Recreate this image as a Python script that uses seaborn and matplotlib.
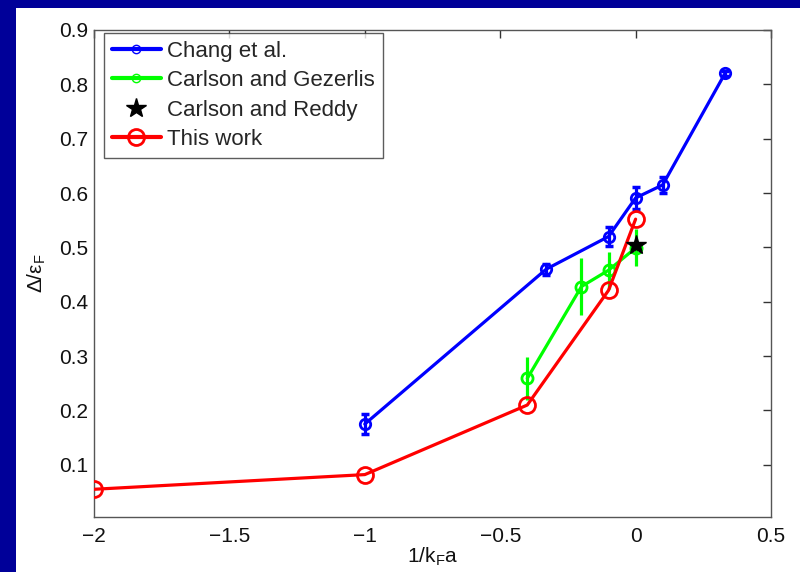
import numpy as np
import pandas as pd
import matplotlib
matplotlib.use("Agg")
import matplotlib.pyplot as plt
from matplotlib.patches import Rectangle
import seaborn as sns

# data
chang_x = [-1.0, -0.33, -0.1, 0.0, 0.1, 0.33]
chang_y = [0.175, 0.460, 0.520, 0.591, 0.615, 0.820]
chang_err = [0.018, 0.010, 0.018, 0.020, 0.015, 0.004]

gez_x = [-0.4, -0.2, -0.1, 0.0]
gez_y = [0.259, 0.428, 0.458, 0.499]
gez_err = [0.040, 0.053, 0.034, 0.034]

reddy_x = [0.0]
reddy_y = [0.504]

this_x = [-2.0, -1.0, -0.4, -0.1, 0.0]
this_y = [0.055, 0.082, 0.210, 0.421, 0.552]

xticks = [-2, -1.5, -1, -0.5, 0, 0.5]
xticklabels = ["\u22122", "\u22121.5", "\u22121", "\u22120.5", "0", "0.5"]
yticks = [0.1, 0.2, 0.3, 0.4, 0.5, 0.6, 0.7, 0.8, 0.9]

sns.set_theme(style="white")
plt.rcParams['font.family'] = ['Liberation Sans', 'DejaVu Sans']
plt.rcParams['mathtext.fontset'] = 'custom'
plt.rcParams['mathtext.rm'] = 'Liberation Sans'
plt.rcParams['mathtext.it'] = 'Liberation Sans'

fig = plt.figure(figsize=(8, 5.72), dpi=100)
fig.patch.set_facecolor('#000099')
fig.patches.append(Rectangle((16 / 800, 0), 1, 1 - 8 / 572, transform=fig.transFigure,
                             facecolor='white', edgecolor='none', zorder=-1))
ax = fig.add_axes([94 / 800, 1 - 517 / 572, (771 - 94) / 800, (517 - 30) / 572])
ax.set_facecolor('white')

blue = '#0000ff'
green = '#00ff00'
red = '#ff0000'

df_chang = pd.DataFrame({'x': chang_x, 'y': chang_y})
df_gez = pd.DataFrame({'x': gez_x, 'y': gez_y})
df_this = pd.DataFrame({'x': this_x, 'y': this_y})

ax.errorbar(chang_x, chang_y, yerr=chang_err, fmt='none', ecolor=blue,
            elinewidth=2.3, capsize=3, capthick=2.5, zorder=3)
sns.lineplot(data=df_chang, x='x', y='y', ax=ax, color=blue, lw=2.3,
             marker='o', markersize=7.5, markerfacecolor='none',
             markeredgecolor=blue, markeredgewidth=2, label='Chang et al.', zorder=3)

ax.errorbar(gez_x, gez_y, yerr=gez_err, fmt='none', ecolor=green,
            elinewidth=2.3, capsize=0, zorder=4)
sns.lineplot(data=df_gez, x='x', y='y', ax=ax, color=green, lw=2.3,
             marker='o', markersize=8, markerfacecolor='none',
             markeredgecolor=green, markeredgewidth=2, label='Carlson and Gezerlis', zorder=4)

ax.plot(reddy_x, reddy_y, linestyle='none', marker='*', markersize=15,
        color='black', label='Carlson and Reddy', zorder=6)

sns.lineplot(data=df_this, x='x', y='y', ax=ax, color=red, lw=2.3,
             marker='o', markersize=11.5, markerfacecolor='none',
             markeredgecolor=red, markeredgewidth=2, label='This work', zorder=5)

ax.set_xlim(-2, 0.5)
ax.set_ylim(0.004, 0.9)
ax.set_xticks(xticks)
ax.set_xticklabels(xticklabels)
ax.set_yticks(yticks)
ax.tick_params(axis='both', direction='in', length=6, width=1, color='#333333',
               labelsize=15, labelcolor='#111111', top=True, right=True)
ax.tick_params(axis='x', pad=7)
ax.tick_params(axis='y', pad=4)
for s in ax.spines.values():
    s.set_color('#555555')
    s.set_linewidth(1)

ax.set_xlabel(r'1/k$_\mathrm{F}$a', fontsize=15, color='#111111', labelpad=0)
ax.set_ylabel(r'$\Delta/\epsilon_\mathrm{F}$', fontsize=15, color='#111111', labelpad=8)

leg = ax.legend(loc='upper left', bbox_to_anchor=(10 / 677, 1 - 3 / 487), fontsize=16,
                frameon=True, fancybox=False, edgecolor='#333333',
                handlelength=2.2, handletextpad=0.3, borderpad=0.35,
                labelspacing=0.38, borderaxespad=0)
leg.get_frame().set_linewidth(1)
for h in leg.legend_handles:
    h.set_linewidth(3)
for h in leg.legend_handles[:2]:
    h.set_markersize(6)
    h.set_markeredgewidth(1)

plt.savefig('out.png', dpi=100, facecolor=fig.get_facecolor())
